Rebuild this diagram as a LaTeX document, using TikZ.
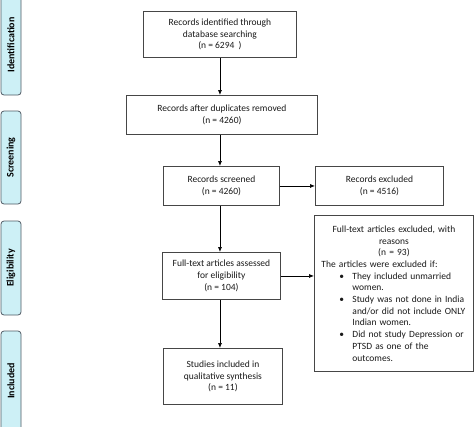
\documentclass[tikz,border=0pt]{standalone}
\usepackage{fontspec}
\setmainfont{Carlito}
\usetikzlibrary{arrows.meta}
\definecolor{sidefill}{RGB}{205,240,246}
\definecolor{sidedraw}{RGB}{80,90,100}
\definecolor{boxdraw}{RGB}{70,70,70}
\newcommand{\bulline}[1]{\par\noindent\hspace*{18pt}\makebox[13pt][l]{\textbullet}#1\par}
\newcommand{\contline}[1]{\par\noindent\hspace*{31pt}#1\par}
\begin{document}
\begin{tikzpicture}[x=1pt,y=-1pt,
 box/.style={draw=boxdraw, line width=0.9pt, align=center, inner sep=0pt, anchor=north west,
   font=\fontsize{9.5}{11.7}\selectfont, text=black!90},
 side/.style={draw=sidedraw, fill=sidefill, rounded corners=3pt, line width=0.8pt, rotate=90,
   minimum height=20pt, inner sep=0pt, font=\bfseries\fontsize{10}{12}\selectfont},
 arr/.style={-{Latex[length=5pt,width=4pt]}, line width=0.7pt}]
\useasboundingbox (0,0) rectangle (474,426);
% side labels
\node[side, minimum width=100pt] (sid) at (11,45) {Identification};
\node[side, minimum width=93pt] (sscr) at (11,157.5) {Screening};
\node[side, minimum width=94pt] (selig) at (11,268) {Eligibility};
\node[side, minimum width=100pt] (sinc) at (11,381) {Included};
% boxes
\node[box, minimum width=153pt, minimum height=46pt] (id) at (143,11) {Records identified through\\database searching\\(n = 6294\ \ )};
\node[box, minimum width=191pt, minimum height=39pt] (dup) at (126,95) {Records after duplicates removed\\(n = 4260)};
\node[box, minimum width=116pt, minimum height=39pt] (scr) at (163,166) {Records screened\\(n = 4260)};
\node[box, minimum width=128pt, minimum height=39pt] (exc) at (315,166) {Records excluded\\(n = 4516)};
\node[box, minimum width=118pt, minimum height=47pt] (ft) at (162,252) {Full-text articles assessed\\for eligibility\\(n = 104)};
\node[box, minimum width=119pt, minimum height=56pt] (stu) at (163,348) {Studies included in\\qualitative synthesis\\(n = 11)};
\node[box, minimum width=159pt, minimum height=156pt, text width=145pt, align=left] (exr) at (314,215) {%
\parindent=0pt{\centering Full-text articles excluded, with\\ reasons\\ (n = 93)\par}
\noindent The articles were excluded if:
\bulline{They included unmarried}
\contline{women.}
\bulline{Study was not done in India}
\contline{and/or did not include ONLY}
\contline{Indian women.}
\bulline{Did not study Depression or}
\contline{PTSD as one of the}
\contline{outcomes.}};
% arrows
\draw[arr] (id.south) -- (id.south |- dup.north);
\draw[arr] (id.south |- dup.south) -- (id.south |- scr.north);
\draw[arr] (id.south |- scr.south) -- (id.south |- ft.north);
\draw[arr] (id.south |- ft.south) -- (id.south |- stu.north);
\draw[arr] (scr.east) -- (exc.west);
\draw[arr] (ft.east) -- (ft.east -| exr.west);
\end{tikzpicture}
\end{document}
